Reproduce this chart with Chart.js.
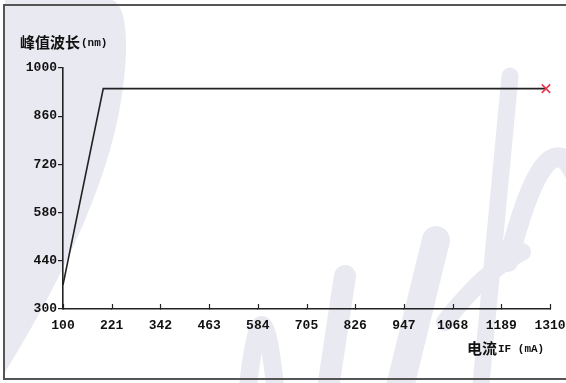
<!DOCTYPE html>
<html lang="zh-CN">
<head>
  <meta charset="UTF-8" />
  <title>峰值波长 - 电流IF</title>
  <script src="https://cdn.jsdelivr.net/npm/chart.js"></script>
  <style>
    html, body { margin: 0; padding: 0; background: #fff; }
    .grafico { width: 566px; height: 383px; }
  </style>
</head>
<body>
  <div class="grafico">
    <canvas id="myChart" width="566" height="383"></canvas>
  </div>

<script>
  // dados da curva: corrente (mA) x pico de onda (nm)
  const correnteMA = [100, 200, 1300];
  const picoNm = [370, 940, 940];

  // marcas dos eixos
  const ticksX = [100, 221, 342, 463, 584, 705, 826, 947, 1068, 1189, 1310];
  const ticksY = [300, 440, 580, 720, 860, 1000];

  const tituloY = ['峰值波长', '(nm)'];
  const tituloX = ['电流', 'IF (mA)'];

  const corEixo = '#222';
  const fonteTick = { family: "'Liberation Mono', 'DejaVu Sans Mono', monospace", size: 13, weight: 'bold' };

  // fundo: moldura e marca d'agua clarinha
  const fundo = {
    id: 'fundo',
    beforeDraw(chart) {
      const c = chart.ctx;
      c.save();
      c.fillStyle = '#e9e9f1';
      c.strokeStyle = '#e9e9f1';
      c.beginPath();
      c.moveTo(5, 0);
      c.lineTo(112, 0);
      c.bezierCurveTo(134, 6, 128, 90, 110, 150);
      c.bezierCurveTo(90, 220, 50, 300, 5, 372);
      c.closePath();
      c.fill();

      c.lineCap = 'round';
      const tracos = [
        [18, [[247, 395], [262, 255], [276, 395]]],
        [22, [[327, 395], [345, 276]]],
        [28, [[398, 395], [436, 240]]],
        [18, [[445, 322], [485, 270], [522, 252]]],
        [17, [[510, 76], [480, 395]]],
        [20, [[508, 262], [545, 118], [574, 172]]]
      ];
      tracos.forEach(([w, p]) => {
        c.lineWidth = w;
        c.beginPath();
        c.moveTo(p[0][0], p[0][1]);
        if (p.length === 3) c.quadraticCurveTo(p[1][0], p[1][1], p[2][0], p[2][1]);
        else c.lineTo(p[1][0], p[1][1]);
        c.stroke();
      });

      // moldura (sem lado direito)
      c.strokeStyle = '#555';
      c.lineWidth = 2;
      c.beginPath();
      c.moveTo(566, 5);
      c.lineTo(4, 5);
      c.lineTo(4, 379);
      c.lineTo(566, 379);
      c.stroke();
      c.restore();
    }
  };

  // titulos dos eixos e tracinhos do eixo X (para cima)
  const extras = {
    id: 'extras',
    afterDraw(chart) {
      const c = chart.ctx;
      const x = chart.scales.x;
      const base = chart.chartArea.bottom;
      c.save();
      c.strokeStyle = corEixo;
      c.lineWidth = 1.2;
      ticksX.forEach(v => {
        const px = Math.round(x.getPixelForValue(v)) + 0.5;
        c.beginPath();
        c.moveTo(px, base);
        c.lineTo(px, base - 5);
        c.stroke();
      });

      c.fillStyle = '#111';
      c.textBaseline = 'middle';
      const escreve = (partes, px, py) => {
        c.font = "bold 15px 'Noto Sans CJK SC'";
        c.fillText(partes[0], px, py);
        const w = c.measureText(partes[0]).width;
        c.font = "bold 11px 'Liberation Mono', monospace";
        c.fillText(partes[1], px + w + 1, py + 1);
      };
      escreve(tituloY, 20, 42);
      escreve(tituloX, 467, 348);
      c.restore();
    }
  };

  const ctx = document.getElementById('myChart').getContext('2d');
  const myChart = new Chart(ctx, {
    type: 'line',
    data: {
      datasets: [{
        data: correnteMA.map((v, i) => ({ x: v, y: picoNm[i] })),
        borderColor: corEixo,
        borderWidth: 1.6,
        tension: 0,
        pointRadius: correnteMA.map((v, i) => i === correnteMA.length - 1 ? 6 : 0),
        pointStyle: 'crossRot',
        pointBorderColor: '#e8384f',
        pointBorderWidth: 1.6,
        clip: false
      }]
    },
    options: {
      responsive: false,
      animation: false,
      devicePixelRatio: 1,
      layout: { padding: { top: 68, right: 16, left: 0, bottom: 0 } },
      plugins: {
        legend: { display: false },
        tooltip: { enabled: false }
      },
      scales: {
        x: {
          type: 'linear',
          min: 100,
          max: 1310,
          afterBuildTicks: s => { s.ticks = ticksX.map(v => ({ value: v })); },
          afterFit: s => { s.height = 74; s.paddingLeft = 0; s.paddingRight = 0; },
          ticks: {
            font: fonteTick,
            color: '#111',
            padding: 9,
            maxRotation: 0,
            autoSkip: false,
            callback: v => String(v)
          },
          grid: { drawOnChartArea: false, tickLength: 0, color: corEixo },
          border: { color: corEixo, width: 1.6 }
        },
        y: {
          min: 300,
          max: 1000,
          afterBuildTicks: s => { s.ticks = ticksY.map(v => ({ value: v })); },
          afterFit: s => { s.width = 63; s.paddingTop = 0; s.paddingBottom = 0; },
          ticks: {
            font: fonteTick,
            color: '#111',
            padding: 1,
            callback: v => String(v)
          },
          grid: { drawOnChartArea: false, tickLength: 5, color: corEixo, lineWidth: 1.2 },
          border: { color: corEixo, width: 1.6 }
        }
      }
    },
    plugins: [fundo, extras]
  });
</script>
</body>
</html>
